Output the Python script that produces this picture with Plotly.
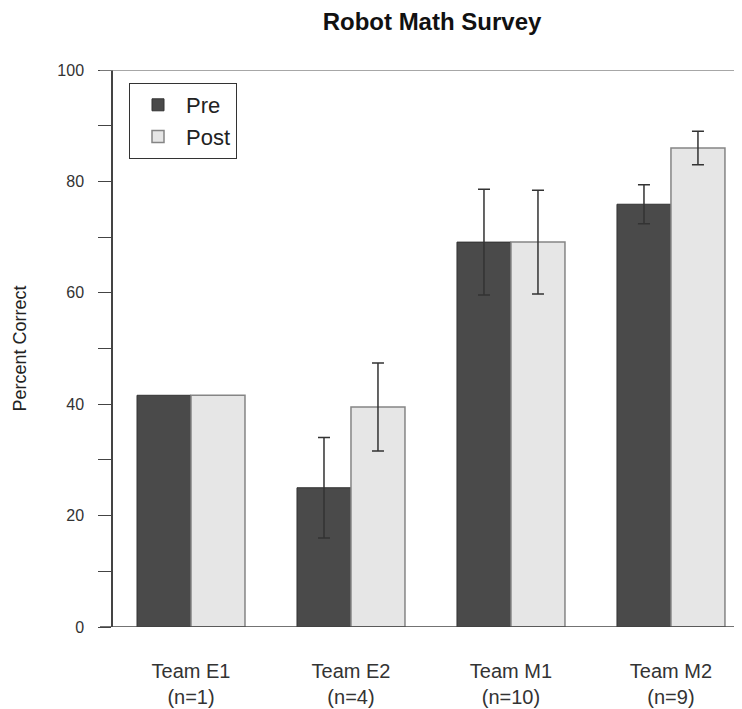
import plotly.graph_objects as go

categories = ["Team E1<br>(n=1)", "Team E2<br>(n=4)", "Team M1<br>(n=10)", "Team M2<br>(n=9)"]
pre_values = [41.6, 25.0, 69.1, 75.9]
pre_errors = [None, 9.0, 9.5, 3.5]
post_values = [41.6, 39.5, 69.1, 86.0]
post_errors = [None, 7.9, 9.3, 3.0]
y_ticks = [0, 20, 40, 60, 80, 100]


def err_array(errs):
    # non-numeric entries make plotly skip the error bar entirely
    return ["NaN" if e is None else e for e in errs]


W, H = 742, 709
ml, mr, mt, mb = 105, 8, 62, 90
pw = W - ml - mr
ph = H - mt - mb

fig = go.Figure()
fig.add_trace(go.Bar(
    name="Pre", x=categories, y=pre_values,
    marker=dict(color="#4a4a4a", line=dict(color="#333333", width=1)),
    error_y=dict(type="data", array=err_array(pre_errors), visible=True,
                 color="#333333", thickness=1.5, width=6),
))
fig.add_trace(go.Bar(
    name="Post", x=categories, y=post_values,
    marker=dict(color="#e6e6e6", line=dict(color="#858585", width=1.5)),
    error_y=dict(type="data", array=err_array(post_errors), visible=True,
                 color="#333333", thickness=1.5, width=6),
))

ext = -13 / pw
for yv in (0, 100):
    fig.add_shape(type="line", xref="paper", yref="y", x0=ext, x1=1.02, y0=yv, y1=yv,
                  line=dict(color="#8a8a8a" if yv == 100 else "#444444", width=1.5), layer="above")

fig.update_layout(
    width=W, height=H,
    margin=dict(l=ml, r=mr, t=mt, b=mb),
    paper_bgcolor="white", plot_bgcolor="white",
    barmode="group", bargap=0.325, bargroupgap=0,
    font=dict(family="Liberation Sans, Arial, sans-serif", color="#333333", size=16),
    title=dict(text="<b>Robot Math Survey</b>", x=424 / W, xanchor="center",
               y=1 - 5 / H, yanchor="top", font=dict(size=24, color="#111111")),
    showlegend=True,
    legend=dict(x=16 / pw, y=1 - 13 / ph, xanchor="left", yanchor="top",
                bgcolor="white", bordercolor="#333333", borderwidth=1,
                font=dict(size=22, color="#222222"), tracegroupgap=0, itemwidth=46),
    xaxis=dict(range=[-0.4875, 3.444], showline=False, ticks="", showgrid=False,
               ticklabelstandoff=30, automargin=False,
               tickfont=dict(size=20, color="#333333"), fixedrange=True),
    yaxis=dict(range=[0, 100], tickvals=y_ticks, showgrid=False, zeroline=False,
               showline=True, linecolor="#444444", linewidth=1.5, automargin=False,
               ticks="outside", ticklen=13, tickcolor="#444444", tickwidth=1,
               ticklabelstandoff=11,
               minor=dict(ticks="outside", ticklen=13, tickcolor="#444444", dtick=10, tick0=0),
               tickfont=dict(size=16, color="#333333"),
               title=dict(text="Percent Correct", font=dict(size=18, color="#222222"), standoff=26)),
)

fig.write_html("out.html")
